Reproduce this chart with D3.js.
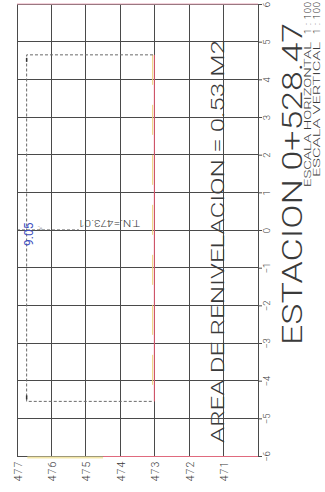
<!DOCTYPE html>
<html>
<head>
<meta charset="utf-8">
<script src="https://cdn.jsdelivr.net/npm/d3@7"></script>
<style>
body{margin:0;background:#fff}
svg{display:block}
text{font-family:Roboto,"Liberation Sans",Arial,sans-serif;font-weight:300;fill:#3a3a3a}
</style>
</head>
<body>
<script>
// distancias al eje (m) y cotas (m)
var offsets = [6,5,4,3,2,1,0,-1,-2,-3,-4,-5,-6];
var cotas = [477,476,475,474,473,472,471,470];
var cotasLabels = [477,476,475,474,473,472,471];

// plantilla de renivelacion (dist, cota)
var plantilla = [[4.65,473.05],[4.65,476.72],[-4.55,476.72],[-4.55,473.05]];
// terreno natural
var terreno = [[4.65,473.01],[-4.55,473.01]];
var ejeLinea = [[0,477],[0,475.2]];

var estacion = "ESTACION 0+528.47";
var area = "AREA DE RENIVELACION = 0.53 M2";
var tn = "T.N.=473.01";
var ancho = "9.05";
var escalas = ["ESCALA HORIZONTAL","ESCALA VERTICAL"];
var escalaValor = "1 : 100";

var W = 325, H = 492;
var svg = d3.select("body").append("svg").attr("width",W).attr("height",H);

// el dibujo esta girado: cota en x, distancia en y
var x = d3.scaleLinear().domain([477,470]).range([17,258]);
var y = d3.scaleLinear().domain([6,-6]).range([4,456]);

var grid = svg.append("g").attr("shape-rendering","crispEdges");
grid.selectAll("line.v").data(cotas).enter().append("line")
  .attr("x1",d=>x(d)).attr("x2",d=>x(d)).attr("y1",y(6)).attr("y2",y(-6))
  .style("stroke","#4a4a4a");
grid.selectAll("line.h").data(offsets).enter().append("line")
  .attr("x1",x(477)).attr("x2",x(470)).attr("y1",d=>y(d)).attr("y2",d=>y(d))
  .style("stroke","#4a4a4a");

// bordes de color
svg.append("line").attr("x1",x(477)).attr("x2",x(470)).attr("y1",y(6)).attr("y2",y(6))
  .style("stroke","#e9a6b8").style("stroke-width",1.2);
svg.append("line").attr("x1",x(476.7)).attr("x2",x(474.5)).attr("y1",y(-6)+1.5).attr("y2",y(-6)+1.5)
  .style("stroke","#f3e7a8").style("stroke-width",2);
svg.append("line").attr("x1",x(474.5)).attr("x2",x(470)).attr("y1",y(-6)+0.5).attr("y2",y(-6)+0.5)
  .style("stroke","#e06a7e").style("stroke-width",1.2);

// eje derecho
var axR = svg.append("g").attr("transform","translate("+x(470)+",0)")
  .call(d3.axisRight(y).tickValues(offsets).tickSize(4).tickSizeOuter(0));
axR.attr("font-family",null);
axR.select(".domain").style("stroke","#4a4a4a");
axR.selectAll(".tick line").style("stroke","#4a4a4a");
axR.selectAll("text").attr("x",null).attr("dy",null)
  .attr("transform","translate(12,0) rotate(-90)")
  .attr("text-anchor","middle").style("font-size","9.5px").style("fill","#3a3a3a");

// eje inferior
var axB = svg.append("g").attr("transform","translate(0,"+y(-6)+")")
  .call(d3.axisBottom(x).tickValues(cotasLabels).tickSize(0).tickFormat(d3.format("d")));
axB.attr("font-family",null);
axB.select(".domain").remove();
axB.selectAll("text").attr("y",null).attr("dy",null)
  .attr("transform","translate(4,15) rotate(-90)")
  .attr("text-anchor","middle").style("font-size","10.5px").style("letter-spacing","1px")
  .style("fill","#3a3a3a");

var line = d3.line().x(d=>x(d[1])).y(d=>y(d[0]));

// terreno
svg.append("path").datum(terreno).attr("d",line)
  .style("fill","none").style("stroke","#e2586f").style("stroke-width",1);
svg.append("path").datum(terreno.map(d=>[d[0],d[1]+0.05])).attr("d",line)
  .style("fill","none").style("stroke","#ecd27a").style("stroke-width",1)
  .style("stroke-dasharray","30,20");

// plantilla punteada
svg.append("path").datum(plantilla).attr("d",line)
  .style("fill","none").style("stroke","#6a6a6a").style("stroke-width",1)
  .style("stroke-dasharray","3,2");
svg.selectAll("line.mk").data([plantilla[1],plantilla[2]]).enter().append("line")
  .attr("x1",d=>x(d[1])).attr("x2",d=>x(d[1]))
  .attr("y1",d=>y(d[0])+(d[0]>0?3:-6)).attr("y2",d=>y(d[0])+(d[0]>0?7:-2))
  .style("stroke","#333").style("stroke-width",1.5);

// eje
svg.append("path").datum(ejeLinea).attr("d",line)
  .style("fill","none").style("stroke","#555").style("stroke-width",1)
  .style("stroke-dasharray","3,2");

// textos
svg.append("text").text(ancho)
  .attr("transform","translate(33,"+(y(0)+16)+") rotate(-90)")
  .style("font-size","12px").style("font-weight",400).style("fill","#4050c0");
svg.append("text").text("≈'")
  .attr("transform","translate(43,"+(y(0)+1)+") rotate(-90)")
  .style("font-size","7px").style("fill","#555");
svg.append("text").text(tn)
  .attr("transform","translate(140,"+(y(0)-10)+") rotate(180)")
  .style("font-size","9px").attr("textLength",62).attr("lengthAdjust","spacingAndGlyphs");

svg.append("text").text(area)
  .attr("transform","translate(224,443) rotate(-90)")
  .style("font-size","18px").attr("textLength",403).attr("lengthAdjust","spacingAndGlyphs");

svg.append("text").text(estacion)
  .attr("transform","translate(302,345) rotate(-90)")
  .style("font-size","27px").attr("textLength",322).attr("lengthAdjust","spacingAndGlyphs");

svg.selectAll("text.esc").data(escalas).enter().append("text")
  .text(d=>d)
  .attr("transform",(d,i)=>"translate("+(311+i*9)+","+(187-i*10)+") rotate(-90)")
  .style("font-size","9.5px").attr("textLength",(d,i)=>145-i*10)
  .attr("lengthAdjust","spacingAndGlyphs");
svg.selectAll("text.escv").data(escalas).enter().append("text")
  .text(escalaValor)
  .attr("transform",(d,i)=>"translate("+(311+i*9)+",34) rotate(-90)")
  .style("font-size","9.5px").attr("textLength",32)
  .attr("lengthAdjust","spacing");
</script>
</body>
</html>
